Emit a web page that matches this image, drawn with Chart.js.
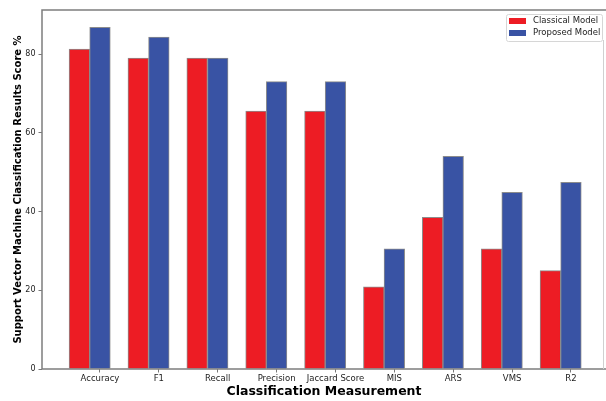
<!DOCTYPE html>
<html>
<head>
<meta charset="utf-8">
<script src="https://cdn.jsdelivr.net/npm/chart.js@4.4.0/dist/chart.umd.min.js"></script>
<style>
  html, body { margin: 0; padding: 0; background: #fff; }
  #wrap { width: 606px; height: 401px; }
</style>
</head>
<body>
<div id="wrap"><canvas id="chart" width="606" height="401"></canvas></div>
<script>
const categories = ['Accuracy', 'F1', 'Recall', 'Precision', 'Jaccard Score', 'MIS', 'ARS', 'VMS', 'R2'];
const classicalScores = [81.3, 79.0, 79.0, 65.5, 65.5, 20.9, 38.5, 30.5, 25.0];
const proposedScores = [86.8, 84.3, 79.0, 73.0, 73.0, 30.5, 54.0, 44.9, 47.4];
const yTicks = [0, 20, 40, 60, 80];
const seriesNames = ['Classical Model', 'Proposed Model'];
const seriesColors = ['#ed1c24', '#3953a4'];

const barWidth = 0.35; // in category units, like the matplotlib source

// spines like matplotlib, drawn over the bars
const spines = {
  id: 'spines',
  afterDatasetsDraw(chart) {
    const { ctx, chartArea: a } = chart;
    ctx.save();
    ctx.strokeStyle = '#7d7d7d';
    ctx.lineWidth = 1.5;
    ctx.beginPath();
    ctx.moveTo(a.right, a.top);
    ctx.lineTo(a.left, a.top);
    ctx.lineTo(a.left, a.bottom);
    ctx.lineTo(a.right, a.bottom);
    ctx.stroke();
    ctx.strokeStyle = '#d0d0d0';
    ctx.lineWidth = 1;
    ctx.beginPath();
    ctx.moveTo(a.right - 2.5, a.top + 30);
    ctx.lineTo(a.right - 2.5, a.bottom);
    ctx.stroke();
    ctx.restore();
  }
};

// legend box in the upper right corner of the axes
const innerLegend = {
  id: 'innerLegend',
  afterDraw(chart) {
    const { ctx, chartArea: a } = chart;
    const boxW = 96, boxH = 27;
    const x = a.right - 4 - boxW, y = a.top + 4;
    ctx.save();
    ctx.fillStyle = 'rgba(255,255,255,0.85)';
    ctx.strokeStyle = '#d6d6d6';
    ctx.lineWidth = 1;
    ctx.beginPath();
    ctx.roundRect(x + 0.5, y + 0.5, boxW, boxH, 2);
    ctx.fill();
    ctx.stroke();
    ctx.font = '8.5px "DejaVu Sans"';
    ctx.textBaseline = 'middle';
    chart.data.datasets.forEach((ds, i) => {
      const rowY = y + 7 + i * 12;
      ctx.fillStyle = ds.backgroundColor;
      ctx.fillRect(x + 3, rowY - 3, 17, 6);
      ctx.fillStyle = '#222';
      ctx.fillText(ds.label, x + 27, rowY);
    });
    ctx.restore();
  }
};

new Chart(document.getElementById('chart'), {
  type: 'bar',
  data: {
    datasets: [
      {
        label: seriesNames[0],
        data: classicalScores.map((v, i) => ({ x: i, y: v })),
        backgroundColor: seriesColors[0],
        borderColor: '#8c8c8c',
        borderWidth: 1,
        barThickness: 20.6
      },
      {
        label: seriesNames[1],
        data: proposedScores.map((v, i) => ({ x: i, y: v })),
        backgroundColor: seriesColors[1],
        borderColor: '#8c8c8c',
        borderWidth: 1,
        barThickness: 20.6
      }
    ]
  },
  options: {
    responsive: false,
    animation: false,
    layout: { padding: { left: 0, right: 0, top: 10, bottom: 0 } },
    plugins: {
      legend: { display: false },
      tooltip: { enabled: false }
    },
    scales: {
      x: {
        type: 'linear',
        offset: false,
        min: -0.81,
        max: 8.77,
        afterFit: (scale) => { scale.height = 32; },
        afterBuildTicks: (scale) => {
          scale.ticks = categories.map((c, i) => ({ value: i + barWidth / 2 }));
        },
        border: { display: false },
        grid: {
          offset: false,
          drawOnChartArea: false,
          drawTicks: true,
          tickLength: 3.5,
          tickColor: '#555',
          lineWidth: 0.8
        },
        ticks: {
          autoSkip: false,
          maxRotation: 0,
          padding: 1,
          color: '#222',
          font: { family: 'DejaVu Sans', size: 8.5 },
          callback: (value, index) => categories[index]
        },
        title: {
          display: true,
          text: 'Classification Measurement',
          color: '#000',
          font: { family: 'DejaVu Sans', size: 12.5, weight: 'bold' },
          padding: { top: 0, bottom: 2 }
        }
      },
      y: {
        min: 0,
        max: 91.2,
        afterFit: (scale) => { scale.width = 42; },
        afterBuildTicks: (scale) => {
          scale.ticks = yTicks.map(v => ({ value: v }));
        },
        border: { display: false },
        grid: {
          drawOnChartArea: false,
          drawTicks: true,
          tickLength: 3.5,
          tickColor: '#555',
          lineWidth: 0.8
        },
        ticks: {
          padding: 3,
          color: '#222',
          font: { family: 'DejaVu Sans', size: 8 }
        },
        title: {
          display: true,
          text: 'Support Vector Machine Classification Results Score %',
          color: '#000',
          font: { family: 'DejaVu Sans', size: 10, weight: 'bold' },
          padding: { top: 12, bottom: 0 }
        }
      }
    }
  },
  plugins: [spines, innerLegend]
});
</script>
</body>
</html>
